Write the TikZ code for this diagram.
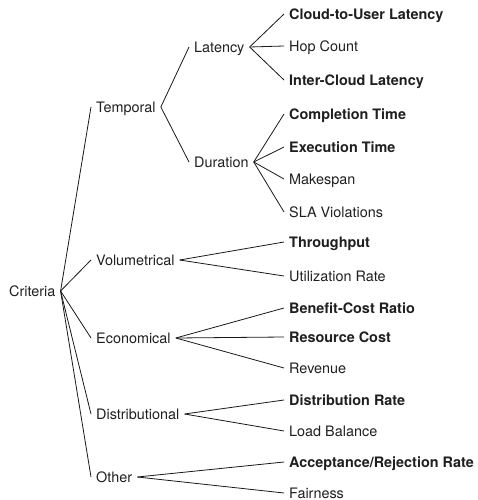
\documentclass[tikz,border=0pt]{standalone}
\usepackage{fontspec}
\setmainfont{TeX Gyre Heros}
\begin{document}
\begin{tikzpicture}[x=1pt,y=-1pt,
  lbl/.style={font=\fontsize{14.4}{17}\selectfont, inner xsep=5pt, inner ysep=0pt,
    text height=10.4pt, text depth=0pt, anchor=west, text=black!88},
  key/.style={lbl, font=\fontsize{14.4}{17}\selectfont\bfseries},
  branch/.style={line width=0.8pt, black!90}]
\useasboundingbox (0,0) rectangle (477,500);

% root
\node[lbl] (crit) at (4,291) {Criteria};

% first level
\node[lbl] (temp) at (91,107) {Temporal};
\node[lbl] (vol)  at (91,260) {Volumetrical};
\node[lbl] (eco)  at (91,338) {Economical};
\node[lbl] (dist) at (91,414) {Distributional};
\node[lbl] (oth)  at (91,477) {Other};

% second level under Temporal
\node[lbl] (lat) at (189,47)  {Latency};
\node[lbl] (dur) at (189,162) {Duration};

% leaves
\node[key] (c2u)  at (284,14)  {Cloud-to-User Latency};
\node[lbl] (hop)  at (284,46)  {Hop Count};
\node[key] (icl)  at (284,80)  {Inter-Cloud Latency};
\node[key] (comp) at (284,114) {Completion Time};
\node[key] (exec) at (284,147) {Execution Time};
\node[lbl] (mksp) at (284,179) {Makespan};
\node[lbl] (sla)  at (284,212) {SLA Violations};
\node[key] (thr)  at (284,242) {Throughput};
\node[lbl] (util) at (284,276) {Utilization Rate};
\node[key] (bcr)  at (284,308) {Benefit-Cost Ratio};
\node[key] (rc)   at (284,337) {Resource Cost};
\node[lbl] (rev)  at (284,368) {Revenue};
\node[key] (dr)   at (284,400) {Distribution Rate};
\node[lbl] (lb)   at (284,431) {Load Balance};
\node[key] (arr)  at (284,462) {Acceptance/Rejection Rate};
\node[lbl] (fair) at (284,493) {Fairness};

% branches
\foreach \c in {temp,vol,eco,dist,oth} \draw[branch] (crit.east) -- (\c.west);
\foreach \c in {lat,dur} \draw[branch] (temp.east) -- (\c.west);
\foreach \c in {c2u,hop,icl} \draw[branch] (lat.east) -- (\c.west);
\foreach \c in {comp,exec,mksp,sla} \draw[branch] (dur.east) -- (\c.west);
\foreach \c in {thr,util} \draw[branch] (vol.east) -- (\c.west);
\foreach \c in {bcr,rc,rev} \draw[branch] (eco.east) -- (\c.west);
\foreach \c in {dr,lb} \draw[branch] (dist.east) -- (\c.west);
\foreach \c in {arr,fair} \draw[branch] (oth.east) -- (\c.west);
\end{tikzpicture}
\end{document}
